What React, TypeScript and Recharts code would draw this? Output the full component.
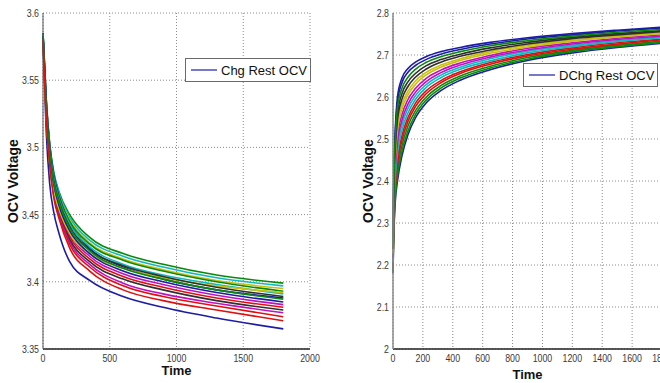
import React from 'react';
import { LineChart, Line, XAxis, YAxis, CartesianGrid } from 'recharts';

// ---------- Left panel: charge rest OCV ----------
const chgTimes = [0, 10, 25, 50, 80, 120, 200, 350, 600, 900, 1300, 1800];
const chgXTicks = [0, 500, 1000, 1500, 2000];
const chgYTicks = [3.35, 3.4, 3.45, 3.5, 3.55, 3.6];

const chgLow = [3.578, 3.55, 3.51, 3.473, 3.452, 3.436, 3.415, 3.401, 3.389, 3.381, 3.373, 3.365];
const chgA = [3.585, 3.565, 3.535, 3.503, 3.482, 3.467, 3.45, 3.433, 3.421, 3.413, 3.405, 3.399];
const chgB = [3.585, 3.564, 3.534, 3.502, 3.481, 3.466, 3.448, 3.431, 3.419, 3.411, 3.403, 3.397];
const chgC = [3.584, 3.564, 3.533, 3.5, 3.478, 3.464, 3.446, 3.429, 3.417, 3.409, 3.401, 3.395];
const chgD = [3.584, 3.563, 3.532, 3.5, 3.478, 3.463, 3.445, 3.428, 3.416, 3.408, 3.4, 3.393];
const chgE = [3.584, 3.562, 3.531, 3.498, 3.477, 3.461, 3.443, 3.426, 3.413, 3.405, 3.398, 3.391];
const chgF = [3.583, 3.561, 3.53, 3.497, 3.475, 3.46, 3.441, 3.424, 3.412, 3.404, 3.396, 3.389];
const chgG = [3.583, 3.561, 3.529, 3.496, 3.474, 3.459, 3.44, 3.423, 3.41, 3.402, 3.394, 3.387];
const chgH = [3.583, 3.56, 3.528, 3.495, 3.473, 3.457, 3.438, 3.421, 3.408, 3.4, 3.392, 3.385];
const chgI = [3.582, 3.559, 3.526, 3.494, 3.471, 3.456, 3.436, 3.419, 3.406, 3.398, 3.39, 3.383];
const chgJ = [3.582, 3.559, 3.525, 3.493, 3.47, 3.454, 3.434, 3.417, 3.404, 3.396, 3.388, 3.381];
const chgK = [3.581, 3.558, 3.524, 3.491, 3.468, 3.453, 3.432, 3.415, 3.402, 3.394, 3.386, 3.379];
const chgL = [3.581, 3.557, 3.523, 3.49, 3.467, 3.451, 3.43, 3.413, 3.399, 3.391, 3.384, 3.377];
const chgM = [3.581, 3.556, 3.522, 3.489, 3.465, 3.449, 3.428, 3.411, 3.397, 3.389, 3.382, 3.374];
const chgN = [3.585, 3.565, 3.534, 3.502, 3.48, 3.464, 3.444, 3.425, 3.411, 3.402, 3.394, 3.388];
const chgO = [3.581, 3.556, 3.522, 3.49, 3.468, 3.454, 3.436, 3.421, 3.41, 3.403, 3.397, 3.392];
const chgP = [3.58, 3.555, 3.52, 3.487, 3.463, 3.447, 3.425, 3.408, 3.394, 3.386, 3.379, 3.371];
const chgSeries = [chgLow, chgA, chgM, chgB, chgL, chgC, chgK, chgN, chgD, chgJ, chgE, chgI, chgO, chgF, chgH, chgG, chgP];

// ---------- Right panel: discharge rest OCV ----------
const dchgTimes = [0, 3, 8, 15, 30, 60, 100, 150, 220, 320, 450, 650, 900, 1200, 1500, 1800];
const dchgXTicks = [0, 200, 400, 600, 800, 1000, 1200, 1400, 1600, 1800];
const dchgYTicks = [2, 2.1, 2.2, 2.3, 2.4, 2.5, 2.6, 2.7, 2.8];

const dchgTop = [2.26, 2.36, 2.45, 2.52, 2.6, 2.645, 2.668, 2.683, 2.696, 2.708, 2.718, 2.73, 2.741, 2.751, 2.759, 2.766];
const dchgA = [2.255, 2.353, 2.441, 2.51, 2.588, 2.634, 2.659, 2.675, 2.689, 2.702, 2.713, 2.726, 2.738, 2.748, 2.757, 2.764];
const dchgB = [2.25, 2.344, 2.43, 2.498, 2.574, 2.621, 2.647, 2.666, 2.682, 2.696, 2.708, 2.722, 2.734, 2.745, 2.754, 2.761];
const dchgC = [2.244, 2.336, 2.42, 2.486, 2.56, 2.608, 2.636, 2.656, 2.674, 2.689, 2.702, 2.717, 2.73, 2.742, 2.751, 2.758];
const dchgD = [2.238, 2.328, 2.41, 2.474, 2.546, 2.595, 2.625, 2.647, 2.666, 2.683, 2.697, 2.712, 2.726, 2.739, 2.748, 2.756];
const dchgE = [2.233, 2.319, 2.399, 2.462, 2.532, 2.582, 2.614, 2.638, 2.658, 2.676, 2.691, 2.708, 2.723, 2.735, 2.745, 2.753];
const dchgF = [2.228, 2.312, 2.39, 2.452, 2.52, 2.571, 2.605, 2.63, 2.652, 2.671, 2.687, 2.704, 2.719, 2.733, 2.743, 2.751];
const dchgG = [2.222, 2.304, 2.38, 2.44, 2.506, 2.558, 2.594, 2.62, 2.644, 2.664, 2.681, 2.699, 2.716, 2.729, 2.74, 2.748];
const dchgH = [2.217, 2.295, 2.369, 2.428, 2.492, 2.545, 2.583, 2.611, 2.636, 2.658, 2.676, 2.695, 2.712, 2.726, 2.737, 2.745];
const dchgI = [2.212, 2.288, 2.36, 2.418, 2.48, 2.534, 2.573, 2.603, 2.629, 2.652, 2.671, 2.691, 2.709, 2.723, 2.734, 2.743];
const dchgJ = [2.206, 2.28, 2.35, 2.406, 2.466, 2.521, 2.562, 2.594, 2.622, 2.646, 2.666, 2.686, 2.705, 2.72, 2.732, 2.741];
const dchgK = [2.201, 2.271, 2.339, 2.394, 2.452, 2.508, 2.551, 2.585, 2.614, 2.639, 2.66, 2.682, 2.701, 2.717, 2.729, 2.738];
const dchgL = [2.196, 2.264, 2.33, 2.384, 2.44, 2.497, 2.542, 2.577, 2.607, 2.634, 2.656, 2.678, 2.698, 2.714, 2.726, 2.736];
const dchgM = [2.19, 2.256, 2.32, 2.372, 2.426, 2.484, 2.531, 2.567, 2.599, 2.627, 2.65, 2.673, 2.694, 2.711, 2.723, 2.733];
const dchgN = [2.185, 2.247, 2.309, 2.36, 2.412, 2.471, 2.519, 2.558, 2.592, 2.621, 2.645, 2.669, 2.69, 2.708, 2.72, 2.73];
const dchgBottom = [2.18, 2.24, 2.3, 2.35, 2.4, 2.46, 2.51, 2.55, 2.585, 2.615, 2.64, 2.665, 2.687, 2.705, 2.718, 2.728];
const dchgSeries = [dchgBottom, dchgM, dchgK, dchgI, dchgG, dchgE, dchgC, dchgA, dchgN, dchgL, dchgJ, dchgH, dchgF, dchgD, dchgTop, dchgB];

const lineColors = ['#1c1ca8', '#0a8a0a', '#e01010', '#10b8c0', '#c010c0', '#c8c010', '#303030'];

const labelFont = "'Liberation Sans', Arial, sans-serif";

function buildRows(times: number[], series: number[][]) {
  return times.map((t, i) => {
    const row: Record<string, number> = { t };
    series.forEach((s, k) => {
      row['s' + k] = s[i];
    });
    return row;
  });
}

const chgRows = buildRows(chgTimes, chgSeries);
const dchgRows = buildRows(dchgTimes, dchgSeries);

const tickTextStyle = { fontSize: 11, fill: '#3a3a3a', fontFamily: labelFont };

function XTick(props: any) {
  const { x, y, payload } = props;
  return (
    <g transform={`translate(${x},${y})`}>
      <text x={0} y={0} dy="0.72em" textAnchor="middle" transform="scale(0.8,1)" style={tickTextStyle}>
        {String(payload.value)}
      </text>
    </g>
  );
}

function YTick(props: any) {
  const { x, y, payload } = props;
  return (
    <g transform={`translate(${x},${y})`}>
      <text x={0} y={0} dy="0.36em" textAnchor="end" transform="scale(0.8,1)" style={tickTextStyle}>
        {String(payload.value)}
      </text>
    </g>
  );
}

function YTitle(cx: number, cy: number) {
  return () => (
    <text
      x={cx}
      y={cy}
      transform={`rotate(-90 ${cx} ${cy})`}
      textAnchor="middle"
      dominantBaseline="central"
      style={{ fontFamily: labelFont, fontWeight: 'bold', fontSize: 14, fill: '#111' }}
    >
      OCV Voltage
    </text>
  );
}

function XTitle(cx: number, cy: number) {
  return () => (
    <text
      x={cx}
      y={cy}
      textAnchor="middle"
      style={{ fontFamily: labelFont, fontWeight: 'bold', fontSize: 13, fill: '#111' }}
    >
      Time
    </text>
  );
}

function LegendBox(props: { left: number; top: number; width: number; text: string }) {
  return (
    <div
      style={{
        position: 'absolute',
        left: props.left,
        top: props.top,
        width: props.width,
        height: 24,
        boxSizing: 'border-box',
        border: '1px solid #6a6a6a',
        background: '#fff',
        display: 'flex',
        alignItems: 'center',
        fontFamily: labelFont,
        fontSize: 13,
        color: '#111',
        whiteSpace: 'nowrap',
      }}
    >
      <svg width={32} height={22} style={{ flex: '0 0 auto' }}>
        <line x1={5} y1={11} x2={31} y2={11} stroke="#1c1ca8" strokeWidth={1.2} />
      </svg>
      <span style={{ marginLeft: 3 }}>{props.text}</span>
    </div>
  );
}

export default function App() {
  return (
    <div
      style={{
        position: 'absolute',
        left: 0,
        top: 0,
        width: 660,
        height: 383,
        overflow: 'hidden',
        background: '#fff',
      }}
    >
      <div style={{ position: 'absolute', left: 0, top: 0 }}>
        <LineChart width={330} height={383} data={chgRows} margin={{ top: 13, right: 20, left: 8, bottom: 0 }}>
          <CartesianGrid stroke="#8c8c8c" strokeDasharray="1 2" />
          <XAxis
            type="number"
            dataKey="t"
            domain={[0, 2000]}
            ticks={chgXTicks}
            interval={0}
            height={34}
            tick={<XTick />}
            tickLine={false}
            tickSize={0}
            tickMargin={5}
            stroke="#222"
            strokeWidth={1.3}
            label={{ content: XTitle(176.5, 375) }}
          />
          <YAxis
            type="number"
            domain={[3.35, 3.6]}
            ticks={chgYTicks}
            interval={0}
            width={35}
            tick={<YTick />}
            tickLine={false}
            tickSize={0}
            tickMargin={4}
            stroke="#555"
            allowDataOverflow
            label={{ content: YTitle(13, 181) }}
          />
          {chgSeries.map((_, k) => (
            <Line
              key={'c' + k}
              dataKey={'s' + k}
              type="monotone"
              stroke={lineColors[k % lineColors.length]}
              strokeWidth={1.6}
              dot={false}
              isAnimationActive={false}
            />
          ))}
        </LineChart>
        <LegendBox left={185} top={58} width={126} text="Chg Rest OCV" />
      </div>
      <div style={{ position: 'absolute', left: 330, top: 0 }}>
        <LineChart width={340} height={383} data={dchgRows} margin={{ top: 13, right: 8, left: 8, bottom: 0 }}>
          <CartesianGrid stroke="#8c8c8c" strokeDasharray="1 2" />
          <XAxis
            type="number"
            dataKey="t"
            domain={[0, 1800]}
            ticks={dchgXTicks}
            interval={0}
            height={34}
            tick={<XTick />}
            tickLine={false}
            tickSize={0}
            tickMargin={5}
            stroke="#222"
            strokeWidth={1.3}
            label={{ content: XTitle(197.5, 379) }}
          />
          <YAxis
            type="number"
            domain={[2, 2.8]}
            ticks={dchgYTicks}
            interval={0}
            width={55}
            tick={<YTick />}
            tickLine={false}
            tickSize={0}
            tickMargin={4}
            stroke="#8a8a8a"
            strokeWidth={1.5}
            allowDataOverflow
            label={{ content: YTitle(38, 181) }}
          />
          {dchgSeries.map((_, k) => (
            <Line
              key={'d' + k}
              dataKey={'s' + k}
              type="monotone"
              stroke={lineColors[k % lineColors.length]}
              strokeWidth={1.6}
              dot={false}
              isAnimationActive={false}
            />
          ))}
        </LineChart>
        <LegendBox left={193} top={63} width={135} text="DChg Rest OCV" />
      </div>
    </div>
  );
}
